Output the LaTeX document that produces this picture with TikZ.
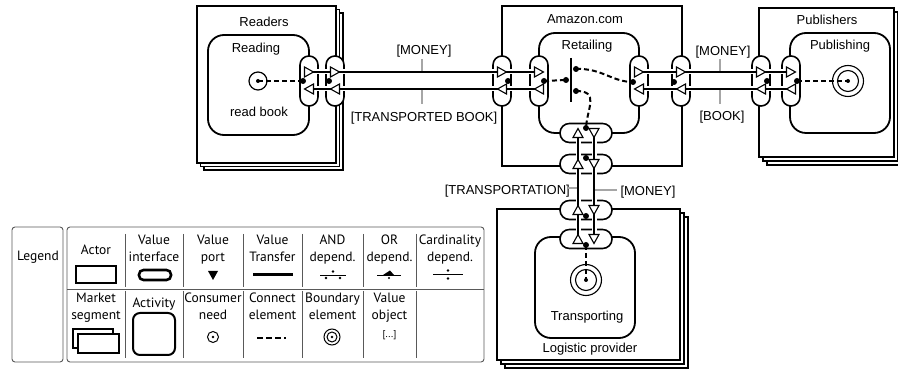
\documentclass[tikz,border=0pt]{standalone}
\usepackage{fontspec}
\setmainfont{Liberation Sans}
\newfontfamily\legfont{PT Sans}
\usetikzlibrary{calc}
\newcommand\mytriR[1]{\path[porttri] ($(#1)+(-4.5,-5)$) -- ($(#1)+(4.5,0)$) -- ($(#1)+(-4.5,5)$) -- cycle;}
\newcommand\mytriL[1]{\path[porttri] ($(#1)+(4.5,-5)$) -- ($(#1)+(-4.5,0)$) -- ($(#1)+(4.5,5)$) -- cycle;}
\newcommand\mytriU[1]{\path[porttri] ($(#1)+(-5,4.5)$) -- ($(#1)+(0,-4.5)$) -- ($(#1)+(5,4.5)$) -- cycle;}
\newcommand\mytriD[1]{\path[porttri] ($(#1)+(-5,-4.5)$) -- ($(#1)+(0,4.5)$) -- ($(#1)+(5,-4.5)$) -- cycle;}
\begin{document}
\begin{tikzpicture}[x=1pt,y=-1pt,
  actorbox/.style={draw, line width=1.8pt, fill=white},
  backbox/.style={draw, line width=1.1pt, fill=white},
  actbox/.style={draw, line width=1.8pt, fill=white, rounded corners=16pt},
  vpill/.style={draw, line width=1.6pt, fill=white, rectangle, minimum width=18pt, minimum height=50pt, rounded corners=8.9pt, inner sep=0pt},
  hpill/.style={draw, line width=1.6pt, fill=white, rectangle, minimum width=52pt, minimum height=19pt, rounded corners=9.4pt, inner sep=0pt},
  xfer/.style={line width=1.8pt, preaction={draw=white, line width=5pt}},
  porttri/.style={draw, line width=1.1pt, fill=white, line join=miter},
  depdot/.style={circle, fill=black, inner sep=0pt, minimum size=6pt},
  conn/.style={line width=2pt, dash pattern=on 5pt off 3pt},
  lbl/.style={font=\fontsize{13}{15}\selectfont, inner sep=0pt, anchor=base},
  leader/.style={draw=black!35, line width=1.6pt},
  legbox/.style={draw=black!65, line width=0.9pt, rounded corners=3pt},
  legline/.style={draw=black!65, line width=0.9pt},
  legt/.style={font=\legfont\fontsize{13.5}{15}\selectfont, inner sep=0pt, anchor=base},
]
\useasboundingbox (0,0) rectangle (898,371);

% ---------- Readers (market segment) ----------
\draw[backbox] (204,13) rectangle (343,170);
\draw[backbox] (200.5,9.5) rectangle (339.5,166.5);
\draw[actorbox] (197,6) rectangle (336,163);
\node[lbl] (readers) at (264,26.5) {Readers};
\draw[actbox] (208,35) rectangle (309,135);
\node[lbl] (reading) at (256,52.5) {Reading};
\node[lbl] (readbook) at (259,116.5) {read book};
\node[circle, draw, line width=1.2pt, minimum size=18pt, inner sep=0pt] (need) at (258,81) {};
\fill (need.center) circle (2pt);

% ---------- Amazon ----------
\draw[actorbox] (502,6) rectangle (682,166);
\node[lbl] (amazon) at (585,24) {Amazon.com};
\draw[actbox] (539,33) rectangle (639,133);
\node[lbl] (retail) at (587,50) {Retailing};

% ---------- Publishers ----------
\draw[backbox] (767,16) rectangle (902,165);
\draw[backbox] (763,12) rectangle (898,161);
\draw[actorbox] (759,8) rectangle (894,157);
\node[lbl] (publishers) at (827,25) {Publishers};
\draw[actbox] (790,33) rectangle (890,133);
\node[lbl] (publishing) at (840,50) {Publishing};
\node[circle, draw, line width=1.1pt, minimum size=31pt, inner sep=0pt] (bpub) at (848,81) {};
\draw[line width=1.1pt] (bpub.center) circle (10.5pt);

% ---------- Logistic provider ----------
\draw[backbox] (505,217) rectangle (688,368);
\draw[backbox] (501,213) rectangle (684,364);
\draw[actorbox] (497,209) rectangle (680,360);
\node[lbl] (logistic) at (590,353) {Logistic provider};
\draw[actbox] (535,237) rectangle (635,338);
\node[lbl] (transporting) at (587,320.5) {Transporting};
\node[circle, draw, line width=1.1pt, minimum size=31pt, inner sep=0pt] (btr) at (586,280) {};
\draw[line width=1.1pt] (btr.center) circle (10.5pt);

% ---------- Value interfaces ----------
\node[vpill] (ra) at (309,81) {};
\node[vpill] (rb) at (335,81) {};
\node[vpill] (aa) at (502,81) {};
\node[vpill] (ab) at (539,81) {};
\node[vpill] (ac) at (639,81) {};
\node[vpill] (ad) at (681,81) {};
\node[vpill] (pe) at (761,81) {};
\node[vpill] (pf) at (791,81) {};
\node[hpill] (p1) at (586,133) {};
\node[hpill] (p2) at (586,164) {};
\node[hpill] (p3) at (586,210) {};
\node[hpill] (p4) at (586,239) {};

% ports
\foreach \n/\x in {ra/309,rb/335,aa/502,ab/539,ac/639,ad/681,pe/761,pf/791}{
  \coordinate (\n-t) at (\x,72);
  \coordinate (\n-b) at (\x,89);
}
\foreach \n/\y in {p1/133,p2/164,p3/210,p4/239}{
  \coordinate (\n-u) at (578,\y);
  \coordinate (\n-d) at (594,\y);
}

% ---------- Value transfers ----------
\draw[xfer] (ra-t) -- (rb-t) -- (aa-t) -- (ab-t);
\draw[xfer] (ac-t) -- (ad-t) -- (pe-t) -- (pf-t);
\draw[xfer] (pf-b) -- (pe-b) -- (ad-b) -- (ac-b);
\draw[xfer] (ab-b) -- (aa-b) -- (rb-b) -- (ra-b);
\draw[xfer] (p4-u) -- (p3-u) -- (p2-u) -- (p1-u);
\draw[xfer] (p1-d) -- (p2-d) -- (p3-d) -- (p4-d);
\foreach \n in {ra,rb,aa,ab,ac,ad,pe,pf}{
  \mytriR{\n-t}
  \mytriL{\n-b}
}
\foreach \n in {p1,p2,p3,p4}{
  \mytriU{\n-u}
  \mytriD{\n-d}
}

% ---------- labels ----------
\node[lbl] (m1) at (424,55) {[MONEY]};
\coordinate (m1a) at (422,59); \coordinate (m1b) at (422,71);
\draw[leader] (m1a) -- (m1b);
\node[lbl] (tb) at (424,121.5) {[TRANSPORTED BOOK]};
\coordinate (tba) at (422,90); \coordinate (tbb) at (422,104);
\draw[leader] (tba) -- (tbb);
\node[lbl] (m2) at (723,56) {[MONEY]};
\coordinate (m2a) at (720,59); \coordinate (m2b) at (720,71);
\draw[leader] (m2a) -- (m2b);
\node[lbl] (bk) at (722,120.5) {[BOOK]};
\coordinate (bka) at (720,90); \coordinate (bkb) at (720,104);
\draw[leader] (bka) -- (bkb);
\node[lbl, anchor=base east] (tr) at (570,195) {[TRANSPORTATION]};
\coordinate (tra) at (568,188); \coordinate (trb) at (577,188);
\draw[leader] (tra) -- (trb);
\node[lbl] (m3) at (648,195.5) {[MONEY]};
\coordinate (m3a) at (595,190); \coordinate (m3b) at (617,190);
\draw[leader] (m3a) -- (m3b);

% ---------- dependency elements ----------
\coordinate (andtop) at (571,58); \coordinate (andbot) at (571,102);
\draw[line width=1.6pt] (andtop) -- (andbot);
\node[depdot] (andl) at (566,80) {};
\node[depdot] (andr1) at (576,69) {};
\node[depdot] (andr2) at (576,91) {};

\node[depdot] (dra) at (303,81) {};
\node[depdot] (drb) at (329,81) {};
\node[depdot] (daa) at (508,81) {};
\node[depdot] (dab) at (544,81) {};
\node[depdot] (dac) at (633,82) {};
\node[depdot] (dad) at (674,82) {};
\node[depdot] (dpe) at (767,81) {};
\node[depdot] (dpf) at (797,81) {};
\node[depdot] (dp1) at (586,128) {};
\node[depdot] (dp2) at (586,158) {};
\node[depdot] (dp3) at (586,216) {};
\node[depdot] (dp4) at (586,245) {};

\draw[conn] (need.center) -- (dra.center);
\draw[conn] (dab.center) -- (andl.center);
\draw[conn] (andr1.center) .. controls (602,68) and (612,82) .. (dac.center);
\draw[conn] (andr2.center) .. controls (600,91) and (587,108) .. (dp1.center);
\draw[conn] (dpf.center) -- (bpub.center);
\draw[conn] (dp4.center) -- (btr.center);
\fill (bpub.center) circle (2pt);
\fill (btr.center) circle (2pt);

% ---------- Legend ----------
\draw[legbox] (12,227) rectangle (63,362);
\draw[legbox] (67,227) rectangle (484,362);
\draw[legline] (67,289) -- (484,289);
\foreach \x in {125,183,243,302,363,416}{
  \draw[legline] (\x,234) -- (\x,287);
  \draw[legline] (\x,291) -- (\x,358);
}
\node[legt] (lgd) at (38,261) {Legend};
\node[legt] (lactor) at (96,254.5) {Actor};
\node[legt] (lvi1) at (154,244.5) {Value};
\node[legt] (lvi2) at (154,261.5) {interface};
\node[legt] (lvp1) at (213,244.5) {Value};
\node[legt] (lvp2) at (213,261.5) {port};
\node[legt] (lvt1) at (272.5,244.5) {Value};
\node[legt] (lvt2) at (272.5,261.5) {Transfer};
\node[legt] (land1) at (332.5,244.5) {AND};
\node[legt] (land2) at (332.5,261.5) {depend.};
\node[legt] (lor1) at (389.5,244.5) {OR};
\node[legt] (lor2) at (389.5,261.5) {depend.};
\node[legt] (lcd1) at (450,244.5) {Cardinality};
\node[legt] (lcd2) at (450,261.5) {depend.};
\node[legt] (lms1) at (96,303) {Market};
\node[legt] (lms2) at (96,320) {segment};
\node[legt] (lact) at (154,308) {Activity};
\node[legt] (lcn1) at (213,303) {Consumer};
\node[legt] (lcn2) at (213,320) {need};
\node[legt] (lce1) at (272.5,303) {Connect};
\node[legt] (lce2) at (272.5,320) {element};
\node[legt] (lbe1) at (332.5,303) {Boundary};
\node[legt] (lbe2) at (332.5,320) {element};
\node[legt] (lvo1) at (389.5,303) {Value};
\node[legt] (lvo2) at (389.5,320) {object};
\node[legt, font=\legfont\fontsize{10}{12}\selectfont] (lvo3) at (389.5,338) {[...]};

% legend icons
\draw[line width=2.2pt] (76,266) rectangle (116,283);
\draw[line width=2.6pt, rounded corners=4.5pt] (139,270) rectangle (171,280);
\fill (208,271) -- (218,271) -- (213,280) -- cycle;
\draw[line width=3pt] (253,275) -- (293,275);
\draw[line width=0.8pt] (320,275) -- (346,275);
\fill (333,271.5) circle (1.4pt) (326,278) circle (1.4pt) (340,278) circle (1.4pt);
\draw[line width=0.8pt] (377,275) -- (401,275);
\fill (383,275) -- (390,270.5) -- (394,275) -- cycle;
\fill (389,278) circle (1.2pt);
\draw[line width=0.8pt] (433,274.5) -- (463,274.5);
\fill (448,270.5) circle (1.4pt) (448,278.5) circle (1.4pt);
\draw[line width=2.4pt, fill=white] (73,329) rectangle (113,348);
\draw[line width=2.4pt, fill=white] (78,334) rectangle (119,353);
\draw[line width=2pt, rounded corners=7pt] (133,313) rectangle (175,355);
\draw[line width=1pt] (213,337) circle (5.5pt);
\fill (213,337) circle (1.3pt);
\draw[line width=2.6pt, dash pattern=on 6pt off 3pt] (257,338) -- (286,338);
\draw[line width=1pt] (332,337) circle (8pt);
\draw[line width=1pt] (332,337) circle (5pt);
\fill (332,337) circle (1.3pt);
\end{tikzpicture}
\end{document}
